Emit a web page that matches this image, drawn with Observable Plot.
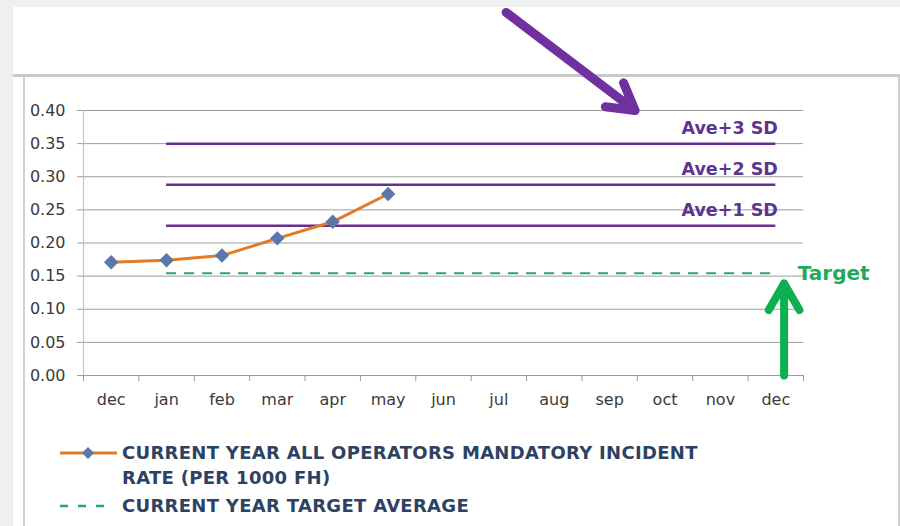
<!DOCTYPE html>
<html>
<head>
<meta charset="utf-8">
<script src="https://cdn.jsdelivr.net/npm/d3@7"></script>
<script src="https://cdn.jsdelivr.net/npm/@observablehq/plot@0.6"></script>
<style>
  html, body { margin: 0; padding: 0; background: #efefef; }
  #page { position: relative; width: 900px; height: 526px; overflow: hidden; background: #efefef; font-family: "DejaVu Sans", sans-serif; }
  #white { position: absolute; left: 13px; top: 7px; right: 0; bottom: 0; background: #ffffff; }
  #hline { position: absolute; left: 13px; right: 0; top: 74px; height: 3px; background: #c9c9c9; }
  #vline { position: absolute; left: 23px; top: 77px; bottom: 0; width: 2px; background: #d2d2d2; }
  #rline { position: absolute; left: 898px; top: 77px; bottom: 0; width: 2px; background: #d2d2d2; }
  #chart { position: absolute; left: 0; top: 0; }
  #legend { position: absolute; left: 58px; top: 440px; font-weight: bold; font-size: 18px; letter-spacing: 0.3px; color: #2d4262; line-height: 25px; }
  .row { display: flex; align-items: flex-start; }
  .sw { width: 64px; height: 25px; flex: none; }
  .row3 { margin-top: 3px; }
</style>
</head>
<body>
<div id="page">
  <div id="white"></div>
  <div id="hline"></div>
  <div id="vline"></div>
  <div id="rline"></div>
  <div id="chart"></div>
  <div id="legend"></div>
</div>
<script>
// ---- data ----
const months = ["dec", "jan", "feb", "mar", "apr", "may", "jun", "jul", "aug", "sep", "oct", "nov", "dec"];
const rateValues = [0.171, 0.174, 0.181, 0.207, 0.232, 0.274];
const sdLabels = ["Ave+3 SD", "Ave+2 SD", "Ave+1 SD"];
const sdValues = [0.350, 0.288, 0.226];
const targetValue = 0.1545;
const targetLabel = "Target";
const yTicks = [0, 0.05, 0.10, 0.15, 0.20, 0.25, 0.30, 0.35, 0.40];
const refStart = 1;   // jan
const refEnd = 12;    // dec
// annotation arrows in data units (month index, rate)
const purpleArrow = [{x1: 7.13, y1: 0.548, x2: 9.46, y2: 0.400}];
const greenArrow = [{x1: 12.15, y1: 0.0, x2: 12.15, y2: 0.139}];
const legendLabels = ["CURRENT YEAR ALL OPERATORS MANDATORY INCIDENT", "RATE (PER 1000 FH)", "CURRENT YEAR TARGET AVERAGE"];

// ---- derived tables ----
const idx = months.map((m, i) => i);
const rate = rateValues.map((v, i) => ({i, v}));
const sd = sdLabels.map((label, k) => ({label, v: sdValues[k]}));
const boundaries = d3.range(-0.5, months.length, 1);

const PURPLE = "#6a2e92";
const ORANGE = "#e27a26";
const BLUE = "#5a77aa";
const GREEN = "#2aa66a";

const chart = Plot.plot({
  width: 900,
  height: 430,
  marginLeft: 83,
  marginRight: 97,
  marginTop: 110,
  marginBottom: 55,
  style: {background: "transparent", fontFamily: "DejaVu Sans, sans-serif"},
  x: {type: "linear", domain: [-0.5, months.length - 0.5]},
  y: {domain: [0, 0.4]},
  marks: [
    Plot.gridY(yTicks, {stroke: "#9c9c9c", strokeOpacity: 1, strokeWidth: 1}),
    Plot.ruleX([-0.5], {stroke: "#c4c4c4", strokeWidth: 1.2}),
    Plot.axisY(yTicks, {tickFormat: d3.format(".2f"), tickSize: 6, tickPadding: 12, stroke: "#9c9c9c", fill: "#3a3a3a", fontSize: 16, label: null}),
    Plot.axisX(idx, {tickFormat: i => months[i], tickSize: 0, tickPadding: 18, fill: "#3a3a3a", fontSize: 16, label: null}),
    Plot.axisX(boundaries, {tickFormat: () => "", tickSize: 6, stroke: "#9c9c9c", label: null}),
    Plot.ruleY(sd, {y: "v", x1: refStart, x2: refEnd, stroke: PURPLE, strokeWidth: 2.5}),
    Plot.ruleY([targetValue], {x1: refStart, x2: refEnd, stroke: GREEN, strokeWidth: 2, strokeDasharray: "10,8"}),
    Plot.text(sd, {x: refEnd, y: "v", text: "label", textAnchor: "end", dx: 2, dy: -15, fill: "#5d3590", fontWeight: "bold", fontSize: 17.5}),
    Plot.text([targetLabel], {x: refEnd, y: targetValue, text: d => d, textAnchor: "start", dx: 22, dy: 0, fill: "#1faa5a", fontWeight: "bold", fontSize: 20}),
    Plot.line(rate, {x: "i", y: "v", stroke: ORANGE, strokeWidth: 3}),
    Plot.dot(rate, {x: "i", y: "v", symbol: "diamond2", r: 6.5, fill: BLUE, stroke: "none"}),
    Plot.arrow(purpleArrow, {x1: "x1", y1: "y1", x2: "x2", y2: "y2", stroke: "#7030a0", strokeWidth: 9, headLength: 5, strokeLinecap: "round", strokeLinejoin: "round"}),
    Plot.arrow(greenArrow, {x1: "x1", y1: "y1", x2: "x2", y2: "y2", stroke: "#0cb050", strokeWidth: 8, headLength: 6, strokeLinecap: "round", strokeLinejoin: "round"})
  ]
});
document.getElementById("chart").appendChild(chart);

// ---- legend ----
const legend = document.getElementById("legend");
legend.innerHTML = `
  <div class="row">
    <svg class="sw" viewBox="0 0 64 25"><line x1="2" x2="59" y1="13" y2="13" stroke="${ORANGE}" stroke-width="3"/><path d="M30,7 L36,13 L30,19 L24,13 Z" fill="${BLUE}"/></svg>
    <div>${legendLabels[0]}<br>${legendLabels[1]}</div>
  </div>
  <div class="row row3">
    <svg class="sw" viewBox="0 0 64 25"><line x1="2" x2="50" y1="13" y2="13" stroke="${GREEN}" stroke-width="2.5" stroke-dasharray="8,10"/></svg>
    <div>${legendLabels[2]}</div>
  </div>`;
</script>
</body>
</html>
